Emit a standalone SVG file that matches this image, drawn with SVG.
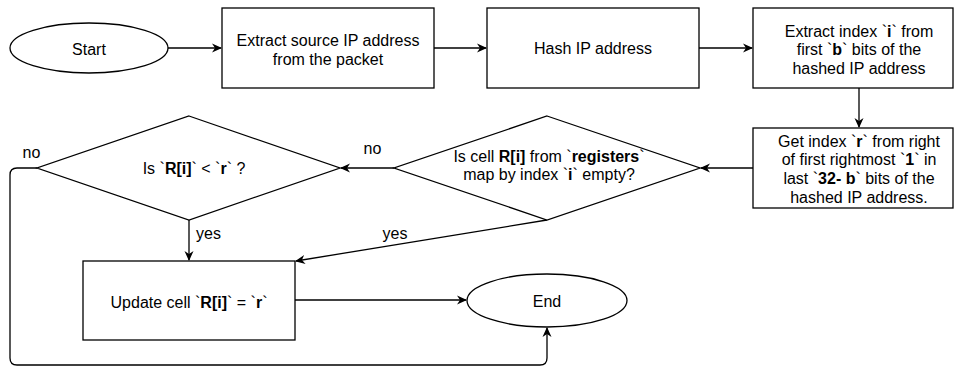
<svg xmlns="http://www.w3.org/2000/svg" width="954" height="367" viewBox="0 0 954 367">
<style>
.s{fill:#fff;stroke:#000;stroke-width:1.3}
.c{fill:none;stroke:#000;stroke-width:1.3}
text{font-family:"Liberation Sans",Arial,Helvetica,sans-serif;font-size:16px;fill:#000;text-anchor:middle}
.l{text-anchor:middle}
.b{font-weight:bold}
</style>
<defs>
<marker id="a" viewBox="0 0 10 10" refX="9" refY="5" markerWidth="10" markerHeight="10" markerUnits="userSpaceOnUse" orient="auto">
<path d="M0,0.5 L10,5 L0,9.5 L3,5 Z" fill="#000"/>
</marker>
</defs>
<rect width="954" height="367" fill="#fff"/>
<g id="connectors">
<path class="c" d="M168,48 L221,48" marker-end="url(#a)"/>
<path class="c" d="M434,48 L486,48" marker-end="url(#a)"/>
<path class="c" d="M699,48 L752,48" marker-end="url(#a)"/>
<path class="c" d="M859,88 L859,127" marker-end="url(#a)"/>
<path class="c" d="M753,168 L701,168" marker-end="url(#a)"/>
<path class="c" d="M394,168 L341,168" marker-end="url(#a)"/>
<path class="c" d="M189,220 L189,260" marker-end="url(#a)"/>
<path class="c" d="M547,220 L296,261" marker-end="url(#a)"/>
<path class="c" d="M295,300 L466,300" marker-end="url(#a)"/>
<path class="c" d="M37,168 L17,168 Q10,168 10,175 L10,358 Q10,365 17,365 L540,365 Q547,365 547,358 L547,328" marker-end="url(#a)"/>
<text x="31.5" y="157.5">no</text>
<text x="372.5" y="153.5">no</text>
<text x="208.5" y="239">yes</text>
<text x="395" y="239">yes</text>
</g>
<g id="start">
<ellipse class="s" cx="89" cy="48" rx="79" ry="25"/>
<text x="89" y="54.5">Start</text>
</g>
<g id="extract-ip">
<rect class="s" x="222" y="8" width="212" height="80"/>
<text x="328" y="46">Extract source IP address</text>
<text x="328" y="64.5">from the packet</text>
</g>
<g id="hash-ip">
<rect class="s" x="487" y="8" width="212" height="80"/>
<text x="593" y="54">Hash IP address</text>
</g>
<g id="extract-index">
<rect class="s" x="753" y="8" width="200" height="80"/>
<text x="859" y="36.5">Extract index `<tspan class="b">i</tspan>` from</text>
<text x="859" y="55">first `<tspan class="b">b</tspan>` bits of the</text>
<text x="859" y="73.5">hashed IP address</text>
</g>
<g id="get-index">
<rect class="s" x="753" y="128" width="200" height="80"/>
<text x="859" y="146.5">Get index `<tspan class="b">r</tspan>` from right</text>
<text x="859" y="165.2">of first rightmost `<tspan class="b">1</tspan>` in</text>
<text x="859" y="183.9">last `<tspan class="b">32- b</tspan>` bits of the</text>
<text x="859" y="202.6">hashed IP address.</text>
</g>
<g id="is-empty">
<polygon class="s" points="547,116 700,168 547,220 394,168"/>
<text x="549" y="161.5">Is cell <tspan class="b">R[i]</tspan> from `<tspan class="b">registers</tspan>`</text>
<text x="549" y="180">map by index `<tspan class="b">i</tspan>` empty?</text>
</g>
<g id="is-less">
<polygon class="s" points="189,116 340,168 189,220 37,168"/>
<text x="194" y="174">Is `<tspan class="b">R[i]</tspan>` &lt; `<tspan class="b">r</tspan>` ?</text>
</g>
<g id="update">
<rect class="s" x="83" y="261" width="212" height="79"/>
<text x="189" y="307.5">Update cell `<tspan class="b">R[i]</tspan>` = `<tspan class="b">r</tspan>`</text>
</g>
<g id="end">
<ellipse class="s" cx="547" cy="300.5" rx="80" ry="26.5"/>
<text x="547" y="306.5">End</text>
</g>
</svg>
